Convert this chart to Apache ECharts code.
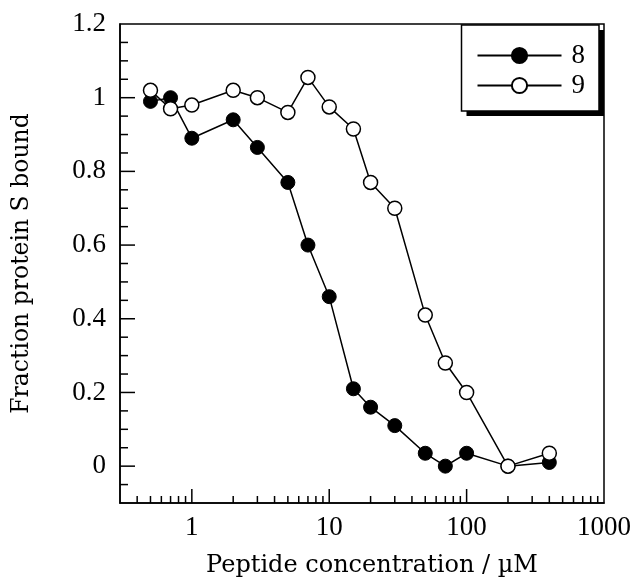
<!DOCTYPE html>
<html>
<head>
<meta charset="utf-8">
<script src="https://cdn.jsdelivr.net/npm/echarts@6/dist/echarts.min.js"></script>
<style>html,body{margin:0;padding:0;background:#fff;}#c{width:636px;height:584px;}</style>
</head>
<body>
<div id="c"></div>
<script>
// ---- data ----
const conc8 = [0.5, 0.7, 1, 2, 3, 5, 7, 10, 15, 20, 30, 50, 70, 100, 200, 400];
const frac8 = [0.99, 1.0, 0.89, 0.94, 0.865, 0.77, 0.60, 0.46, 0.21, 0.16, 0.11, 0.035, 0.0, 0.035, 0.0, 0.01];
const conc9 = [0.5, 0.7, 1, 2, 3, 5, 7, 10, 15, 20, 30, 50, 70, 100, 200, 400];
const frac9 = [1.02, 0.97, 0.98, 1.02, 1.0, 0.96, 1.055, 0.975, 0.915, 0.77, 0.70, 0.41, 0.28, 0.20, 0.0, 0.035];
const seriesNames = ['8', '9'];
const xTickLabels = [1, 10, 100, 1000];
const yTickLabels = [0, 0.2, 0.4, 0.6, 0.8, 1, 1.2];
const xMajorTicks = [1, 10, 100];
const xMinorTicks = [0.4, 0.5, 0.6, 0.7, 0.8, 0.9, 2, 3, 4, 5, 6, 7, 8, 9, 20, 30, 40, 50, 60, 70, 80, 90, 200, 300, 400, 500, 600, 700, 800, 900];
const yMajorTicks = [0, 0.2, 0.4, 0.6, 0.8, 1.0];
const yMinorTicks = [-0.05, 0.05, 0.1, 0.15, 0.25, 0.3, 0.35, 0.45, 0.5, 0.55, 0.65, 0.7, 0.75, 0.85, 0.9, 0.95, 1.05, 1.1, 1.15];
const X_MIN = 0.3, X_MAX = 1000, Y_MIN = -0.1, Y_MAX = 1.2;

const serif = 'Liberation Serif';
const titleFont = 'DejaVu Serif';

function tickSeries(values, axis, len) {
  return {
    type: 'custom', silent: true, z: 5, clip: false,
    data: values.map(v => axis === 'x' ? [v, Y_MIN] : [X_MIN, v]),
    renderItem: function (params, api) {
      const p = api.coord([api.value(0), api.value(1)]);
      const shape = axis === 'x'
        ? { x1: p[0], y1: p[1], x2: p[0], y2: p[1] - len }
        : { x1: p[0], y1: p[1], x2: p[0] + len, y2: p[1] };
      return { type: 'line', shape: shape, style: { stroke: '#000', lineWidth: 1.5 } };
    }
  };
}

const legendBase = {
  data: seriesNames,
  orient: 'vertical',
  right: 37, top: 25,
  itemWidth: 84, itemHeight: 19, itemGap: 3,
  padding: [17, 14, 12, 15],
  borderRadius: 0,
  selectedMode: false
};

const chart = echarts.init(document.getElementById('c'), null, { renderer: 'canvas' });
chart.setOption({
  animation: false,
  backgroundColor: '#fff',
  grid: { left: 120, right: 32, top: 24, bottom: 81, outerBoundsMode: 'none', containLabel: false, show: true, borderColor: '#000', borderWidth: 1.5, backgroundColor: 'transparent' },
  legend: [
    Object.assign({}, legendBase, {
      z: 3,
      backgroundColor: '#fff', borderWidth: 0,
      shadowColor: '#000', shadowBlur: 0, shadowOffsetX: 5, shadowOffsetY: 5,
      itemStyle: { opacity: 0 }, lineStyle: { opacity: 0 },
      textStyle: { fontFamily: serif, fontSize: 27, color: 'rgba(0,0,0,0)', padding: [0, 0, 0, 5] }
    }),
    Object.assign({}, legendBase, {
      z: 4,
      backgroundColor: 'transparent', borderColor: '#000', borderWidth: 1.5,
      textStyle: { fontFamily: serif, fontSize: 27, color: '#000', padding: [0, 0, 0, 5] }
    })
  ],
  xAxis: {
    type: 'log', logBase: 10, min: X_MIN, max: X_MAX,
    name: 'Peptide concentration / \u00b5M', nameLocation: 'middle', nameGap: 51,
    nameTextStyle: { fontFamily: titleFont, fontSize: 24, color: '#000', padding: [0, 0, 0, 20] },
    axisLine: { show: true, onZero: false, lineStyle: { color: '#000', width: 1.5 } },
    axisTick: { show: false },
    splitLine: { show: false },
    minorTick: { show: false },
    axisLabel: {
      fontFamily: serif, fontSize: 27, color: '#000', margin: 11, showMinLabel: false,
      formatter: v => xTickLabels.some(t => Math.abs(t - v) / t < 1e-6) ? String(Math.round(v)) : ''
    }
  },
  yAxis: {
    type: 'value', min: Y_MIN, max: Y_MAX, interval: 0.1,
    name: 'Fraction protein S bound', nameLocation: 'middle', nameGap: 86,
    nameTextStyle: { fontFamily: titleFont, fontSize: 23.5, color: '#000' },
    axisLine: { show: true, onZero: false, lineStyle: { color: '#000', width: 1.5 } },
    axisTick: { show: false },
    splitLine: { show: false },
    axisLabel: {
      fontFamily: serif, fontSize: 27, color: '#000', margin: 14,
      formatter: v => {
        const m = yTickLabels.find(t => Math.abs(t - v) < 1e-6);
        return m === undefined ? '' : String(m);
      }
    }
  },
  series: [
    tickSeries(xMajorTicks, 'x', 14),
    tickSeries(xMinorTicks, 'x', 7),
    tickSeries(yMajorTicks, 'y', 15),
    tickSeries(yMinorTicks, 'y', 8),
    {
      name: seriesNames[0], type: 'line', z: 10,
      data: conc8.map((c, i) => [c, frac8[i]]),
      symbol: 'circle', symbolSize: 14,
      lineStyle: { color: '#000', width: 1.5 },
      itemStyle: { color: '#000', borderColor: '#000', borderWidth: 1 }
    },
    {
      name: seriesNames[1], type: 'line', z: 11,
      data: conc9.map((c, i) => [c, frac9[i]]),
      symbol: 'circle', symbolSize: 14,
      lineStyle: { color: '#000', width: 1.5 },
      itemStyle: { color: '#fff', borderColor: '#000', borderWidth: 1.5 }
    }
  ]
});
</script>
</body>
</html>
